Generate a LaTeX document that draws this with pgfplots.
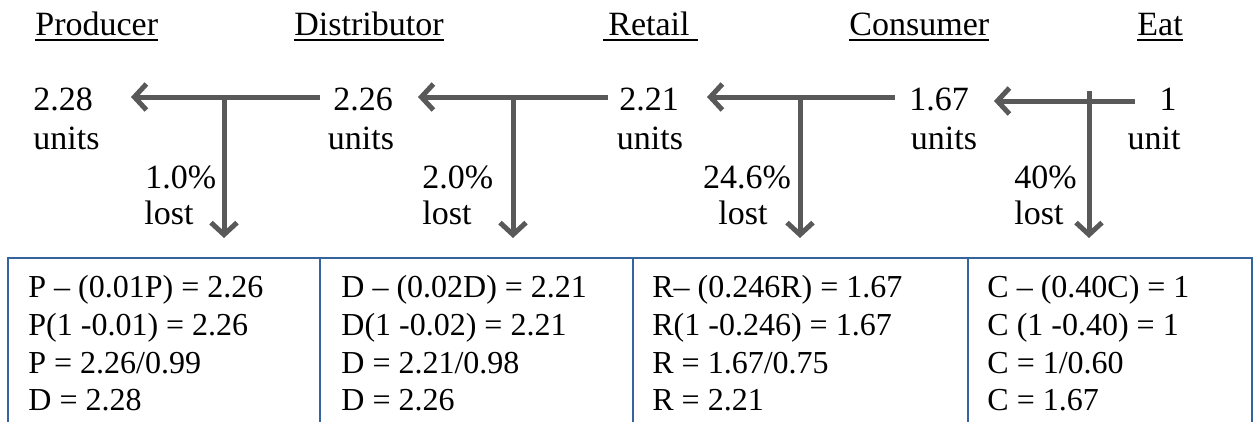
\documentclass[border=0pt]{standalone}
\usepackage{fontspec}
\setmainfont{Liberation Serif}
\usepackage{pgfplots}
\pgfplotsset{compat=1.18}
\usetikzlibrary{arrows.meta}
\definecolor{arrowgray}{RGB}{89,89,89}
\definecolor{tblue}{RGB}{52,99,158}
\newcommand{\hdr}{\fontsize{17}{20}\selectfont}
\newcommand{\tbl}{\fontsize{16}{19}\selectfont}
\newcommand{\ul}[1]{\setbox0\hbox{#1}\rlap{\rule[-2.8pt]{\wd0}{0.9pt}}\box0}
\tikzset{h/.style={inner sep=0pt,font=\hdr},t/.style={inner sep=0pt,font=\tbl,anchor=base west},
  arr/.style={arrowgray,line width=2.5pt,-{Straight Barb[length=6pt,width=13pt]}}}
\begin{document}
\begin{tikzpicture}
\begin{axis}[width=630pt,height=211pt,scale only axis,
  xmin=0,xmax=1260,ymin=0,ymax=422,y dir=reverse,hide axis,clip=false]
\path (rel axis cs:0,0) rectangle (rel axis cs:1,1);
% horizontal flow arrows
\addplot[arr] coordinates {(320,97) (131,97)};
\addplot[arr] coordinates {(608,97) (418,97)};
\addplot[arr] coordinates {(895,97) (707,97)};
\addplot[arr] coordinates {(1135,101) (994,101)};
% loss arrows
\addplot[arr] coordinates {(224,97) (224,238)};
\addplot[arr] coordinates {(513,97) (513,238)};
\addplot[arr] coordinates {(800,97) (800,238)};
\addplot[arr] coordinates {(1089,91) (1089,238)};
% table borders
\addplot[tblue,line width=1pt] coordinates {(8,422) (8,258) (1252,258) (1252,422)};
\addplot[tblue,line width=1pt] coordinates {(320,258) (320,422)};
\addplot[tblue,line width=1pt] coordinates {(633,258) (633,422)};
\addplot[tblue,line width=1pt] coordinates {(968,258) (968,422)};
% headers
\node[h,anchor=base west] at (axis cs:35,35) {\ul{Producer}};
\node[h,anchor=base west] at (axis cs:294,35) {\ul{Distributor}};
\node[h,anchor=base west] at (axis cs:603,35) {\ul{\hspace{2.5pt}Retail\hspace{4pt}}};
\node[h,anchor=base west] at (axis cs:849,35) {\ul{Consumer}};
\node[h,anchor=base west] at (axis cs:1137,35) {\ul{Eat}};
% quantities
\node[h,anchor=base west] at (axis cs:33,110) {2.28};
\node[h,anchor=base west] at (axis cs:33,149) {units};
\node[h,anchor=base] at (axis cs:363,110) {2.26};
\node[h,anchor=base] at (axis cs:361,149) {units};
\node[h,anchor=base] at (axis cs:649,110) {2.21};
\node[h,anchor=base] at (axis cs:650,149) {units};
\node[h,anchor=base] at (axis cs:939,110) {1.67};
\node[h,anchor=base] at (axis cs:944,149) {units};
\node[h,anchor=base east] at (axis cs:1177,110) {1};
\node[h,anchor=base east] at (axis cs:1181,149) {unit};
% losses
\node[h,anchor=base west] at (axis cs:145,188) {1.0\%};
\node[h,anchor=base west] at (axis cs:144,224) {lost};
\node[h,anchor=base west] at (axis cs:422,188) {2.0\%};
\node[h,anchor=base west] at (axis cs:422,224) {lost};
\node[h,anchor=base] at (axis cs:747,188) {24.6\%};
\node[h,anchor=base] at (axis cs:743,224) {lost};
\node[h,anchor=base west] at (axis cs:1014,188) {40\%};
\node[h,anchor=base west] at (axis cs:1014,224) {lost};
% table text
\node[t] at (axis cs:28,297) {P – (0.01P) = 2.26};
\node[t] at (axis cs:28,335) {P(1 -0.01) = 2.26};
\node[t] at (axis cs:28,373) {P = 2.26/0.99};
\node[t] at (axis cs:28,410) {D = 2.28};
\node[t] at (axis cs:341,297) {D – (0.02D) = 2.21};
\node[t] at (axis cs:341,335) {D(1 -0.02) = 2.21};
\node[t] at (axis cs:341,373) {D = 2.21/0.98};
\node[t] at (axis cs:341,410) {D = 2.26};
\node[t] at (axis cs:652,297) {R– (0.246R) = 1.67};
\node[t] at (axis cs:652,335) {R(1 -0.246) = 1.67};
\node[t] at (axis cs:652,373) {R = 1.67/0.75};
\node[t] at (axis cs:652,410) {R = 2.21};
\node[t] at (axis cs:987,297) {C – (0.40C) = 1};
\node[t] at (axis cs:987,335) {C (1 -0.40) = 1};
\node[t] at (axis cs:987,373) {C = 1/0.60};
\node[t] at (axis cs:987,410) {C = 1.67};
\end{axis}
\end{tikzpicture}
\end{document}
